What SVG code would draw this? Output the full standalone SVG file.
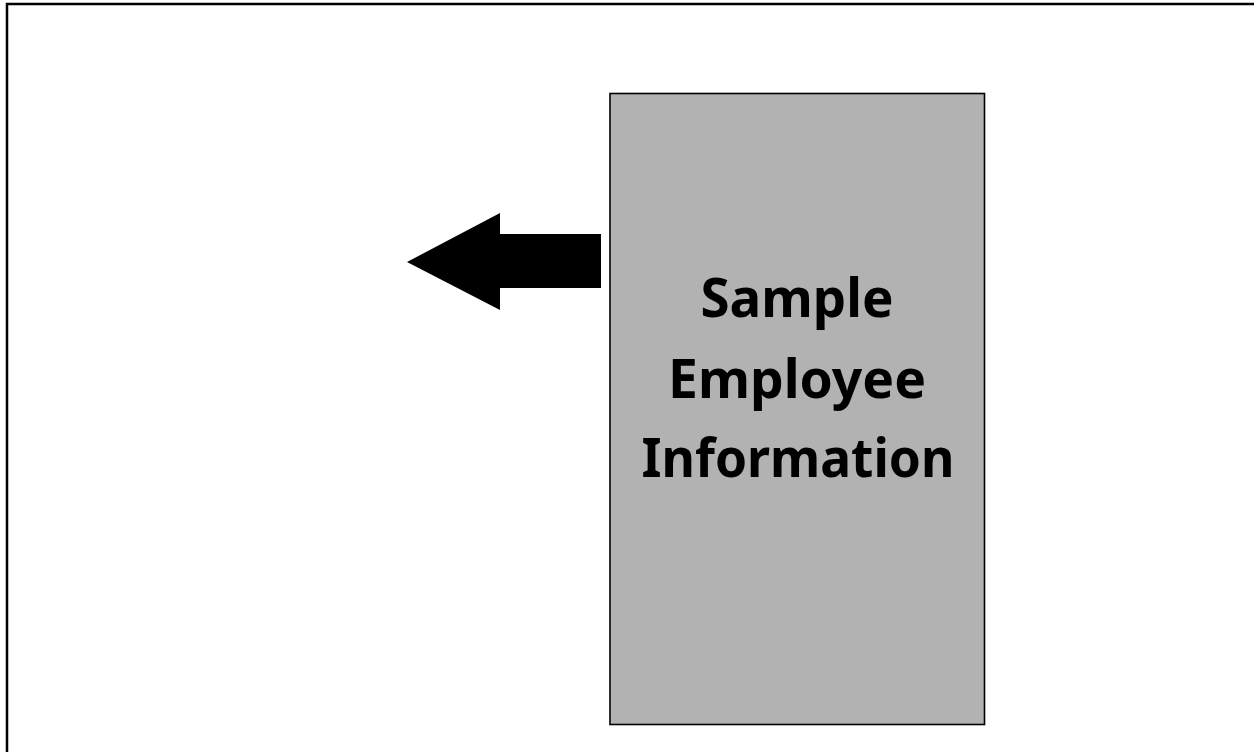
<svg xmlns="http://www.w3.org/2000/svg" width="1254" height="752" viewBox="0 0 1254 752">
<style>
.lbl{font-family:"Noto Sans","DejaVu Sans",sans-serif;font-weight:bold;font-size:54px;fill:#000;text-anchor:middle}
</style>
<rect x="0" y="0" width="1254" height="752" fill="#fff"/>
<path d="M7 760 V4 H1260" fill="none" stroke="#000" stroke-width="2.5"/>
<g id="box">
<rect x="610" y="93.5" width="374.5" height="631" fill="#b2b2b2" stroke="#000" stroke-width="1.6"/>
<text class="lbl" x="797" y="317" textLength="193" lengthAdjust="spacingAndGlyphs">Sample</text>
<text class="lbl" x="797" y="398" textLength="258" lengthAdjust="spacingAndGlyphs">Employee</text>
<text class="lbl" x="798" y="477" textLength="313" lengthAdjust="spacingAndGlyphs">Information</text>
</g>
<g id="connectors">
<polygon points="407,262 500,213 500,234 601,234 601,288 500,288 500,310" fill="#000"/>
</g>
</svg>
